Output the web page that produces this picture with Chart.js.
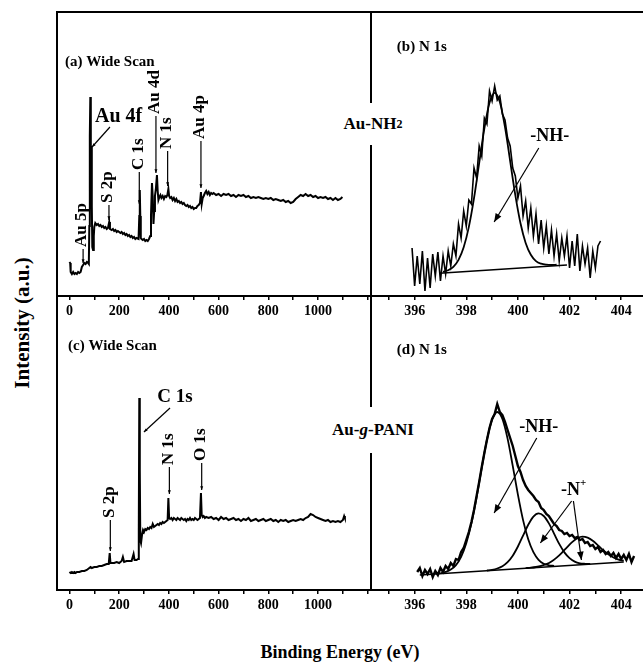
<!DOCTYPE html>
<html>
<head>
<meta charset="utf-8">
<script src="https://cdn.jsdelivr.net/npm/chart.js@4.4.1/dist/chart.umd.min.js"></script>
<style>
  body { margin: 0; background: #fff; }
  #fig { position: relative; width: 643px; height: 665px; overflow: hidden;
         font-family: "Liberation Serif", "Times New Roman", serif; font-weight: bold; color: #000; }
  .panel { position: absolute; }
  .tag { position: absolute; z-index: 2; background: #fff; font-size: 17px;
         display: flex; align-items: center; justify-content: center; white-space: nowrap; }
  .tag sub { font-size: 12px; vertical-align: -3px; }
  .title { position: absolute; z-index: 2; white-space: nowrap; }
</style>
</head>
<body>
<div id="fig">
  <div class="panel" style="left:56px; top:11px; width:316px; height:315px;"><canvas id="wideA"></canvas></div>
  <div class="panel" style="left:370px; top:11px; width:280px; height:315px;"><canvas id="narrowB"></canvas></div>
  <div class="panel" style="left:56px; top:295px; width:316px; height:325px;"><canvas id="wideC"></canvas></div>
  <div class="panel" style="left:370px; top:295px; width:280px; height:325px;"><canvas id="narrowD"></canvas></div>

  <div class="tag" style="left:336px; top:103px; width:74px; height:42px;">Au-NH<sub>2</sub></div>
  <div class="tag" style="left:324px; top:407px; width:98px; height:46px;">Au-<i>g</i>-PANI</div>

  <div class="title" style="left:22px; top:323px; font-size:21px; transform:translate(-50%,-50%) rotate(-90deg);">Intensity (a.u.)</div>
  <div class="title" style="left:340px; top:652px; font-size:18px; transform:translate(-50%,-50%);">Binding Energy (eV)</div>
</div>

<script>
// tick labels
const wideTicks = [0, 200, 400, 600, 800, 1000];
const narrowTicks = [396, 398, 400, 402, 404];

// (a) Au-NH2 wide scan
const wideEnergyA = [0, 3, 5, 10, 15, 20, 25, 30, 35, 40, 45, 50, 55, 60, 65, 70, 75, 78, 80, 82, 84, 86, 88, 90, 92, 95, 98,
  100, 104, 110, 115, 120, 125, 130, 135, 140, 145, 150, 155, 160, 163, 170, 175, 180, 185, 190, 195, 200, 205, 210,
  215, 220, 225, 230, 235, 240, 245, 250, 255, 260, 265, 270, 278, 281, 283, 285, 287, 290, 295, 300, 305, 310, 315,
  320, 325, 328, 332, 335, 338, 341, 344, 348, 352, 355, 358, 362, 366, 370, 375, 380, 385, 390, 394, 398, 401, 405,
  410, 415, 420, 425, 430, 435, 440, 445, 450, 455, 460, 465, 470, 475, 480, 485, 490, 495, 500, 505, 510, 515, 520,
  525, 529, 532, 536, 540, 545, 550, 555, 560, 565, 570, 575, 580, 590, 600, 610, 620, 630, 640, 650, 660, 670, 680,
  690, 700, 710, 720, 730, 740, 750, 760, 770, 780, 790, 800, 810, 820, 830, 840, 850, 860, 870, 880, 890, 900, 910,
  920, 930, 940, 950, 960, 970, 980, 990, 1000, 1010, 1020, 1030, 1040, 1050, 1060, 1070, 1080, 1090, 1098];
const wideCountsA = [34, 33, 24, 22, 24, 22, 23, 22, 24, 23, 24, 29, 31, 33, 32, 34, 33, 32, 70, 160, 199, 120, 150, 90, 49, 46, 60,
  69, 73, 71, 72, 70, 71, 69, 70, 68, 69, 67, 68, 74, 67, 66, 67, 65, 66, 64, 65, 64, 63, 64,
  62, 63, 61, 62, 60, 61, 59, 60, 58, 59, 57, 58, 57, 80, 106, 80, 58, 57, 56, 57, 55, 56, 55,
  57, 60, 80, 113, 100, 72, 85, 100, 108, 121, 105, 96, 99, 101, 98, 100, 97, 100, 99, 101, 107, 100, 98,
  99, 96, 98, 95, 97, 94, 95, 93, 94, 92, 93, 91, 90, 91, 89, 90, 88, 89, 87, 88, 88, 90, 91,
  93, 104, 92, 98, 100, 103, 105, 102, 104, 101, 103, 102, 103, 101, 102, 100, 102, 101, 102, 100, 101, 99, 101,
  100, 101, 99, 100, 98, 99, 98, 99, 98, 97, 98, 97, 98, 96, 97, 96, 95, 96, 94, 95, 93, 94, 97,
  99, 101, 100, 102, 100, 101, 99, 100, 98, 99, 98, 99, 97, 98, 96, 98, 96, 97, 99];

// (c) Au-g-PANI wide scan
const wideEnergyC = [0, 5, 10, 15, 20, 25, 30, 40, 50, 60, 70, 80, 85, 90, 100, 110, 120, 130, 140, 150, 158, 162, 165, 170,
  180, 190, 200, 210, 215, 220, 230, 240, 250, 258, 262, 270, 276, 279, 281, 283, 285, 288, 292, 296, 300, 305, 310,
  315, 320, 325, 330, 335, 340, 345, 350, 355, 360, 365, 370, 375, 380, 385, 390, 395, 398, 401, 405, 410, 415, 420,
  425, 430, 435, 440, 445, 450, 455, 460, 465, 470, 475, 480, 485, 490, 495, 500, 505, 510, 515, 520, 525, 529, 532,
  536, 540, 545, 550, 560, 570, 580, 590, 600, 610, 620, 630, 640, 650, 660, 670, 680, 690, 700, 710, 720, 730, 740,
  750, 760, 770, 780, 790, 800, 810, 820, 830, 840, 850, 860, 870, 880, 890, 900, 910, 920, 930, 940, 950, 960, 970,
  980, 990, 1000, 1010, 1020, 1030, 1040, 1050, 1060, 1070, 1080, 1090, 1100, 1105, 1108];
const wideCountsC = [18, 17, 18, 17, 18, 17, 18, 18, 19, 19, 20, 22, 23, 22, 23, 23, 24, 24, 25, 26, 26, 37, 27, 27,
  27, 28, 27, 29, 33, 28, 29, 29, 29, 36, 30, 30, 31, 60, 192, 120, 50, 47, 55, 60, 58, 61, 60,
  62, 61, 63, 62, 66, 63, 64, 65, 66, 65, 67, 66, 68, 67, 68, 69, 70, 92, 72, 71, 72, 70, 72,
  71, 70, 72, 71, 70, 72, 71, 70, 71, 69, 71, 70, 72, 70, 71, 70, 72, 71, 70, 71, 72, 97, 75,
  73, 74, 72, 73, 72, 73, 71, 72, 70, 73, 71, 72, 70, 71, 72, 70, 71, 69, 71, 70, 72, 69, 70,
  71, 69, 70, 71, 69, 70, 71, 69, 70, 68, 70, 69, 70, 68, 69, 70, 69, 70, 71, 70, 72, 73, 76,
  75, 73, 72, 71, 70, 69, 70, 68, 69, 68, 69, 68, 70, 74, 72];

// (b) Au-NH2 N 1s region
const n1sEnergyB = [395.9, 396.0, 396.1, 396.2, 396.3, 396.4, 396.5, 396.6, 396.7, 396.8, 396.9, 397.0, 397.1, 397.2,
  397.3, 397.4, 397.5, 397.6, 397.7, 397.8, 397.9, 398.0, 398.1, 398.2, 398.3, 398.4, 398.5, 398.6, 398.7, 398.8,
  398.9, 399.0, 399.1, 399.2, 399.3, 399.4, 399.5, 399.6, 399.7, 399.8, 399.9, 400.0, 400.1, 400.2, 400.3, 400.4,
  400.5, 400.6, 400.7, 400.8, 400.9, 401.0, 401.1, 401.2, 401.3, 401.4, 401.5, 401.6, 401.7, 401.8, 401.9, 402.0,
  402.1, 402.2, 402.3, 402.4, 402.5, 402.6, 402.7, 402.8, 402.9, 403.0, 403.1, 403.2];
const n1sCountsB = [48, 10, 40, 12, 45, 5, 38, 8, 42, 20, 44, 15, 40, 22,
  45, 30, 52, 40, 72, 58, 85, 70, 96, 92, 128, 118, 150, 140, 178, 172,
  205, 195, 210, 196, 200, 182, 176, 158, 150, 128, 120, 98, 110, 80, 95, 68,
  88, 60, 82, 52, 76, 48, 70, 42, 66, 40, 62, 35, 58, 40, 60, 28,
  55, 30, 62, 25, 50, 32, 48, 18, 45, 28, 50, 55];
const fitEnergyB = [397.1, 397.3, 397.5, 397.7, 397.9, 398.1, 398.3, 398.5, 398.7, 398.9, 399.1, 399.3, 399.5,
  399.7, 399.9, 400.1, 400.3, 400.5, 400.7, 400.9, 401.1, 401.3, 401.5];
const fitCountsB = [24.2, 25.8, 29.2, 36.2, 48.7, 69.1, 97.9, 132.8, 167.3, 193.2, 203.1, 193.9, 168.8,
  134.9, 100.8, 72.7, 53.0, 41.2, 34.9, 32.3, 31.3, 31.0, 31.3];
const baseEnergyB = [396.96, 401.9];
const baseCountsB = [22.7, 31.0];

// (d) Au-g-PANI N 1s region
const n1sEnergyD = [396.1, 396.2, 396.3, 396.4, 396.5, 396.6, 396.7, 396.8, 396.9, 397.0, 397.1, 397.2, 397.3, 397.4,
  397.5, 397.6, 397.7, 397.8, 397.9, 398.0, 398.1, 398.2, 398.3, 398.4, 398.5, 398.6, 398.7, 398.8, 398.9, 399.0,
  399.1, 399.2, 399.3, 399.4, 399.5, 399.6, 399.7, 399.8, 399.9, 400.0, 400.1, 400.2, 400.3, 400.4, 400.5, 400.6,
  400.7, 400.8, 400.9, 401.0, 401.1, 401.2, 401.3, 401.4, 401.5, 401.6, 401.7, 401.8, 401.9, 402.0, 402.1, 402.2,
  402.3, 402.4, 402.5, 402.6, 402.7, 402.8, 402.9, 403.0, 403.1, 403.2, 403.3, 403.4, 403.5, 403.6, 403.7, 403.8,
  403.9, 404.0, 404.1, 404.2, 404.3, 404.4, 404.5];
const n1sCountsD = [18, 22, 14, 20, 16, 21, 13, 19, 15, 22, 18, 24, 21, 27,
  24, 31, 30, 38, 42, 50, 58, 68, 80, 94, 108, 123, 137, 150, 162, 171,
  176, 186, 178, 175, 168, 160, 152, 144, 134, 124, 118, 110, 104, 100, 97, 94,
  90, 88, 82, 80, 76, 74, 70, 66, 64, 60, 59, 56, 57, 54, 55, 52,
  53, 50, 51, 47, 48, 44, 45, 41, 43, 38, 40, 36, 38, 34, 37, 32,
  36, 31, 35, 30, 36, 28, 34];
const fitEnergyNH = [397.0, 397.2, 397.4, 397.6, 397.8, 398.0, 398.2, 398.4, 398.6, 398.8, 399.0, 399.2, 399.4,
  399.6, 399.8, 400.0, 400.2, 400.4, 400.6, 400.8, 401.0, 401.2, 401.4];
const fitCountsNH = [16.8, 18.1, 20.4, 24.9, 33.1, 46.8, 66.6, 92.7, 122.2, 150.1, 170.3, 178.0, 171.0,
  151.4, 124.1, 95.4, 69.9, 50.7, 37.8, 30.2, 26.3, 24.7, 24.1];
const fitEnergyN1 = [398.8, 399.0, 399.2, 399.4, 399.6, 399.8, 400.0, 400.2, 400.4, 400.6, 400.8, 401.0, 401.2,
  401.4, 401.6, 401.8, 402.0, 402.2, 402.4, 402.6, 402.8];
const fitCountsN1 = [19.5, 20.2, 21.5, 23.8, 27.9, 34.3, 43.5, 54.4, 65.2, 73.4, 76.6, 74.0, 66.6,
  56.4, 46.1, 37.6, 31.9, 28.4, 26.7, 26.2, 26.1];
const fitEnergyN2 = [400.3, 400.5, 400.7, 400.9, 401.1, 401.3, 401.5, 401.7, 401.9, 402.1, 402.3, 402.5, 402.7,
  402.9, 403.1, 403.3, 403.5, 403.7, 403.9, 404.1];
const fitCountsN2 = [21.9, 22.3, 23.0, 24.1, 25.8, 28.5, 32.4, 37.2, 42.7, 47.9, 51.8, 53.4, 52.4,
  49.3, 44.7, 39.8, 35.7, 32.5, 30.4, 29.3];
const baseEnergyD = [396.2, 404.1];
const baseCountsD = [15, 28];

Chart.defaults.font.family = '"Liberation Serif", "Times New Roman", serif';
Chart.defaults.color = '#000';

function series(xs, ys, width, smooth) {
  return {
    data: xs.map((x, i) => ({ x: x, y: ys[i] })),
    borderColor: '#000',
    borderWidth: width,
    pointRadius: 0,
    fill: false,
    tension: 0,
    cubicInterpolationMode: smooth ? 'monotone' : 'default'
  };
}

function energyAxis(min, max, step, labelled) {
  return {
    type: 'linear',
    min: min,
    max: max,
    afterBuildTicks: (ax) => {
      ax.ticks = ax.ticks.filter((t) => Math.abs(t.value / step - Math.round(t.value / step)) < 1e-6);
    },
    afterFit: (ax) => { ax.height = 30; },
    ticks: {
      stepSize: step,
      includeBounds: false,
      autoSkip: false,
      maxRotation: 0,
      padding: 3,
      color: '#000',
      font: { size: 14, weight: 'bold' },
      callback: (v) => labelled.some((l) => Math.abs(l - v) < 1e-6) ? String(Math.round(v)) : ''
    },
    grid: { drawOnChartArea: false, tickLength: 4, color: '#000', lineWidth: 1.5 },
    border: { display: false }
  };
}

function drawArrow(ctx, x1, y1, x2, y2, head) {
  ctx.beginPath();
  ctx.moveTo(x1, y1);
  ctx.lineTo(x2, y2);
  ctx.stroke();
  if (!head) return;
  const a = Math.atan2(y2 - y1, x2 - x1);
  ctx.beginPath();
  ctx.moveTo(x2, y2);
  ctx.lineTo(x2 - head * Math.cos(a - 0.38), y2 - head * Math.sin(a - 0.38));
  ctx.lineTo(x2 - head * Math.cos(a + 0.38), y2 - head * Math.sin(a + 0.38));
  ctx.closePath();
  ctx.fill();
}

// panel frame; the bottom axis line pokes a little past the left edge
const frame = {
  id: 'frame',
  afterDraw(chart) {
    const { ctx, chartArea: a } = chart;
    ctx.save();
    ctx.lineWidth = 2;
    ctx.strokeStyle = '#000';
    ctx.strokeRect(a.left, a.top, a.right - a.left, a.bottom - a.top);
    ctx.beginPath();
    ctx.moveTo(Math.max(a.left - 4, 0), a.bottom);
    ctx.lineTo(a.left, a.bottom);
    ctx.stroke();
    ctx.restore();
  }
};

// peak labels and arrows, placed in energy / intensity units
const annotate = {
  id: 'annotate',
  afterDatasetsDraw(chart, args, opts) {
    const { ctx, scales: { x, y } } = chart;
    ctx.save();
    ctx.fillStyle = '#000';
    ctx.strokeStyle = '#000';
    ctx.lineWidth = 1.2;
    (opts.items || []).forEach((it) => {
      const size = it.size || 15;
      ctx.font = 'bold ' + size + 'px "Liberation Serif", serif';
      if (it.kind === 'text') {
        const px = x.getPixelForValue(it.x);
        const py = y.getPixelForValue(it.y);
        ctx.textBaseline = 'middle';
        ctx.textAlign = it.align || 'center';
        if (it.sup) {
          const w = ctx.measureText(it.text).width;
          ctx.textAlign = 'left';
          ctx.fillText(it.text, px - w / 2, py);
          ctx.font = 'bold ' + Math.round(size * 0.6) + 'px "Liberation Serif", serif';
          ctx.fillText(it.sup, px + w / 2, py - size * 0.4);
        } else {
          ctx.fillText(it.text, px, py);
        }
      } else if (it.kind === 'arrow') {
        drawArrow(ctx, x.getPixelForValue(it.x1), y.getPixelForValue(it.y1),
          x.getPixelForValue(it.x2), y.getPixelForValue(it.y2), it.head);
      } else if (it.kind === 'peak') {
        // upright label reading bottom to top, arrow down to the peak
        const px = x.getPixelForValue(it.x);
        const py = y.getPixelForValue(it.y);
        ctx.save();
        ctx.translate(px - 1, py - 2);
        ctx.rotate(-Math.PI / 2);
        ctx.textAlign = 'left';
        ctx.textBaseline = 'middle';
        ctx.fillText(it.text, 0, 0);
        ctx.restore();
        drawArrow(ctx, px, py, px, y.getPixelForValue(it.tip), 4);
      }
    });
    ctx.restore();
  }
};

function makePanel(id, xScale, yMax, datasets, notes) {
  return new Chart(document.getElementById(id), {
    type: 'line',
    data: { datasets: datasets },
    options: {
      responsive: true,
      maintainAspectRatio: false,
      animation: false,
      events: [],
      layout: { padding: { left: 1, right: 1, top: 1, bottom: 0 } },
      scales: { x: xScale, y: { display: false, min: 0, max: yMax } },
      plugins: { legend: { display: false }, tooltip: { enabled: false }, annotate: { items: notes } }
    },
    plugins: [frame, annotate]
  });
}

makePanel('wideA', energyAxis(-50, 1213, 100, wideTicks), 284,
  [series(wideEnergyA, wideCountsA, 2, false)],
  [
    { kind: 'text', x: -18, y: 234, text: '(a) Wide Scan', size: 15, align: 'left' },
    { kind: 'text', x: 103, y: 179, text: 'Au 4f', size: 20, align: 'left' },
    { kind: 'arrow', x1: 163, y1: 169, x2: 91, y2: 149, head: 4 },
    { kind: 'peak', x: 55, y: 47, tip: 33, text: 'Au 5p', size: 17 },
    { kind: 'peak', x: 159, y: 91, tip: 76, text: 'S 2p', size: 17 },
    { kind: 'peak', x: 281, y: 124, tip: 92, text: 'C 1s', size: 17 },
    { kind: 'peak', x: 348, y: 180, tip: 123, text: 'Au 4d', size: 17 },
    { kind: 'peak', x: 395, y: 145, tip: 110, text: 'N 1s', size: 17 },
    { kind: 'peak', x: 529, y: 155, tip: 108, text: 'Au 4p', size: 17 }
  ]);

makePanel('narrowB', energyAxis(394.31, 405.0, 1, narrowTicks), 284,
  [
    series(n1sEnergyB, n1sCountsB, 1.6, false),
    series(fitEnergyB, fitCountsB, 1.8, true),
    series(baseEnergyB, baseCountsB, 1.6, false)
  ],
  [
    { kind: 'text', x: 395.31, y: 249, text: '(b) N 1s', size: 15, align: 'left' },
    { kind: 'text', x: 401.23, y: 160, text: '-NH-', size: 18 },
    { kind: 'arrow', x1: 400.81, y1: 148, x2: 399.08, y2: 74, head: 9 }
  ]);

makePanel('wideC', energyAxis(-50, 1213, 100, wideTicks), 294,
  [series(wideEnergyC, wideCountsC, 2, false)],
  [
    { kind: 'text', x: -5.6, y: 244, text: '(c) Wide Scan', size: 15, align: 'left' },
    { kind: 'text', x: 424.5, y: 193, text: 'C 1s', size: 19 },
    { kind: 'arrow', x1: 404.6, y1: 182, x2: 299.7, y2: 158, head: 4 },
    { kind: 'peak', x: 164.5, y: 70, tip: 39, text: 'S 2p', size: 17 },
    { kind: 'peak', x: 402, y: 123, tip: 96, text: 'N 1s', size: 17 },
    { kind: 'peak', x: 532, y: 127, tip: 100, text: 'O 1s', size: 17 }
  ]);

makePanel('narrowD', energyAxis(394.31, 405.0, 1, narrowTicks), 294,
  [
    series(n1sEnergyD, n1sCountsD, 2.4, false),
    series(fitEnergyNH, fitCountsNH, 1.8, true),
    series(fitEnergyN1, fitCountsN1, 1.8, true),
    series(fitEnergyN2, fitCountsN2, 1.8, true),
    series(baseEnergyD, baseCountsD, 1.6, false)
  ],
  [
    { kind: 'text', x: 395.31, y: 240, text: '(d) N 1s', size: 15, align: 'left' },
    { kind: 'text', x: 400.81, y: 163, text: '-NH-', size: 18 },
    { kind: 'arrow', x1: 400.73, y1: 152, x2: 399.08, y2: 77, head: 9 },
    { kind: 'text', x: 402.04, y: 100, text: '-N', sup: '+', size: 18 },
    { kind: 'arrow', x1: 402.08, y1: 89, x2: 400.87, y2: 47, head: 9 },
    { kind: 'arrow', x1: 402.15, y1: 89, x2: 402.46, y2: 30, head: 9 }
  ]);
</script>
</body>
</html>
